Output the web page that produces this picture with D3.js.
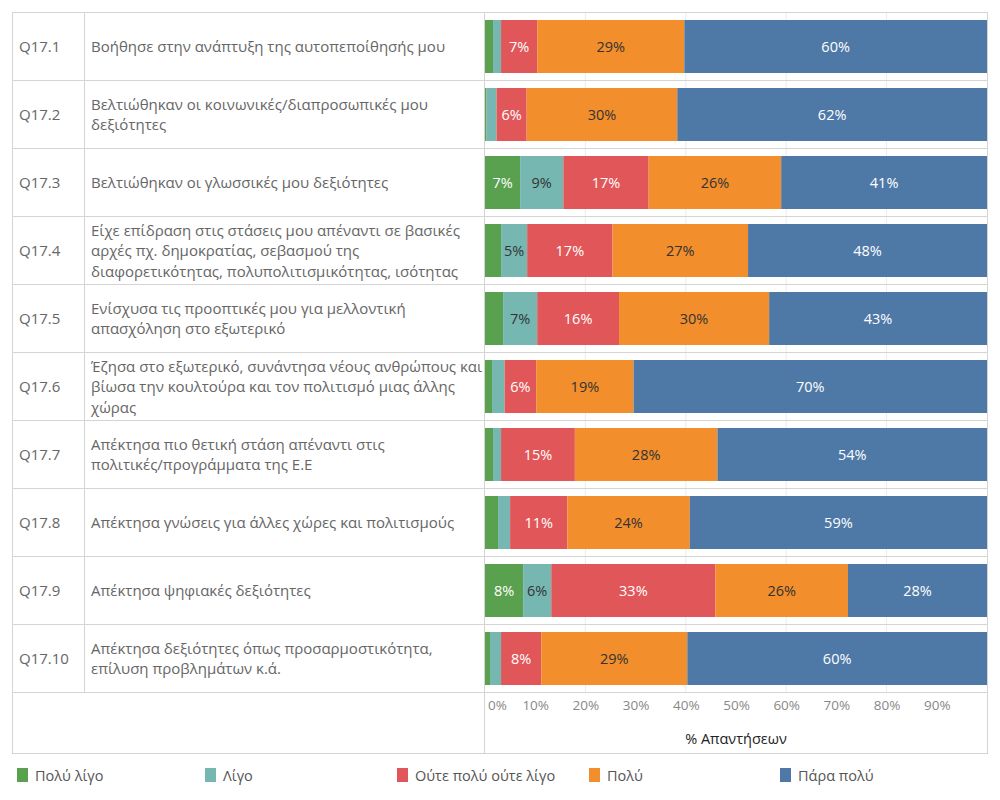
<!DOCTYPE html>
<html><head><meta charset="utf-8">
<script src="https://cdn.jsdelivr.net/npm/d3@7"></script>
<style>
body{margin:0;background:#fff;}
text{font-family:"Open Sans","Noto Sans",sans-serif;}
</style></head>
<body><svg id="c" width="1000" height="800"></svg>
<script>
const ids = ["Q17.1","Q17.2","Q17.3","Q17.4","Q17.5","Q17.6","Q17.7","Q17.8","Q17.9","Q17.10"];
const labels = [
  ["Βοήθησε στην ανάπτυξη της αυτοπεποίθησής μου"],
  ["Βελτιώθηκαν οι κοινωνικές/διαπροσωπικές μου","δεξιότητες"],
  ["Βελτιώθηκαν οι γλωσσικές μου δεξιότητες"],
  ["Είχε επίδραση στις στάσεις μου απέναντι σε βασικές","αρχές πχ.  δημοκρατίας, σεβασμού της","διαφορετικότητας, πολυπολιτισμικότητας, ισότητας"],
  ["Ενίσχυσα τις προοπτικές μου για μελλοντική","απασχόληση στο εξωτερικό"],
  ["Έζησα στο εξωτερικό, συνάντησα νέους ανθρώπους και","βίωσα την κουλτούρα και τον πολιτισμό μιας άλλης","χώρας"],
  ["Απέκτησα πιο θετική στάση απέναντι στις","πολιτικές/προγράμματα της Ε.Ε"],
  ["Απέκτησα γνώσεις για άλλες χώρες και πολιτισμούς"],
  ["Απέκτησα ψηφιακές δεξιότητες"],
  ["Απέκτησα δεξιότητες όπως προσαρμοστικότητα,","επίλυση προβλημάτων κ.ά."]
];
const series = ["Πολύ λίγο","Λίγο","Ούτε πολύ ούτε λίγο","Πολύ","Πάρα πολύ"];
const colors = ["#59a14f","#76b7b2","#e15759","#f28e2b","#4e79a7"];
const labelColors = ["#ffffff","#333333","#ffffff","#333333","#ffffff"];
const veryLittle = [1.6,0.3,7.0,3.2,3.6,1.4,1.6,2.6,7.6,1.0];
const little     = [1.6,2.0,8.6,5.2,6.8,2.5,1.6,2.4,5.6,2.2];
const neutral    = [7.2,6.0,17.0,17.0,16.3,6.3,14.7,11.4,32.7,8.0];
const much       = [29.3,30.0,26.4,27.0,29.9,19.4,28.4,24.4,26.4,29.1];
const veryMuch   = [60.3,61.7,41.0,47.6,43.4,70.4,53.7,59.2,27.7,59.7];
const ticks = [0,10,20,30,40,50,60,70,80,90];
const axisTitle = "% Απαντήσεων";

const values = [veryLittle,little,neutral,much,veryMuch];
const svg = d3.select("#c");
const L = 12, R = 988, T = 12, rowsBottom = 692, B = 754;
const colId = 84, colBar = 485;
const x = d3.scaleLinear().domain([0,100]).range([colBar, 987]);
const y = d3.scaleBand().domain(ids).range([T, rowsBottom]).paddingInner(0).paddingOuter(0);
const barPad = 8;

// gridlines
svg.append("g").selectAll("line").data([20,40,60,80]).join("line")
  .attr("x1",d=>x(d)).attr("x2",d=>x(d)).attr("y1",T).attr("y2",rowsBottom)
  .attr("stroke","#ececec").attr("stroke-width",1);

// row separators
svg.append("g").selectAll("line").data(ids.slice(1).concat(["__end"])).join("line")
  .attr("x1",L).attr("x2",R)
  .attr("y1",(d,i)=> i<ids.length-1 ? Math.round(y(d))+0.5 : rowsBottom+0.5)
  .attr("y2",(d,i)=> i<ids.length-1 ? Math.round(y(d))+0.5 : rowsBottom+0.5)
  .attr("stroke","#d4d4d4");

// vertical separators
svg.append("line").attr("x1",colId+0.5).attr("x2",colId+0.5).attr("y1",T).attr("y2",rowsBottom).attr("stroke","#d4d4d4");
svg.append("line").attr("x1",colBar-0.5).attr("x2",colBar-0.5).attr("y1",T).attr("y2",B).attr("stroke","#d4d4d4");
// outer border
svg.append("rect").attr("x",L+0.5).attr("y",T+0.5).attr("width",R-L-1).attr("height",B-T-1)
  .attr("fill","none").attr("stroke","#d4d4d4");

// stacked data
const rows = ids.map((id,i)=>{
  let acc = 0;
  return {id, segs: values.map((arr,s)=>{ const v0=acc; acc+=arr[i]; return {s, v:arr[i], v0, v1:acc}; })};
});

const g = svg.append("g").selectAll("g").data(rows).join("g");
g.selectAll("rect").data(d=>d.segs.map(s=>({...s,id:d.id}))).join("rect")
  .attr("x",d=>x(d.v0)).attr("width",d=>x(d.v1)-x(d.v0))
  .attr("y",d=>y(d.id)+barPad).attr("height",y.bandwidth()-2*barPad+1)
  .attr("fill",d=>colors[d.s]);
g.selectAll("text.v").data(d=>d.segs.filter(s=>s.v>=4.5).map(s=>({...s,id:d.id}))).join("text")
  .attr("class","v")
  .attr("x",d=>(x(d.v0)+x(d.v1))/2).attr("y",d=>y(d.id)+y.bandwidth()/2)
  .attr("text-anchor","middle").attr("dominant-baseline","central")
  .attr("font-size",14.5).attr("fill",d=>labelColors[d.s])
  .text(d=>Math.round(d.v)+"%");

// id column
svg.append("g").selectAll("text").data(ids).join("text")
  .attr("x",19).attr("y",d=>y(d)+y.bandwidth()/2)
  .attr("dominant-baseline","central").attr("font-size",15).attr("fill","#666")
  .text(d=>d);

// label column
const lg = svg.append("g").selectAll("text").data(ids).join("text")
  .attr("font-size",15).attr("fill","#666");
lg.each(function(d,i){
  const lines = labels[i], lh = 20.5;
  const cy = y(d)+y.bandwidth()/2 - (lines.length-1)*lh/2;
  d3.select(this).selectAll("tspan").data(lines).join("tspan")
    .attr("x",91).attr("y",(l,j)=>cy+j*lh).attr("dominant-baseline","central").text(l=>l);
});

// axis
const axisG = svg.append("g").attr("transform",`translate(0,${rowsBottom})`)
  .call(d3.axisBottom(x).tickValues(ticks).tickSize(0).tickFormat(d=>d+"%"));
axisG.select(".domain").remove();
axisG.selectAll("text").attr("font-size",13.5).attr("fill","#888").attr("dy",0).attr("y",18)
  .attr("font-family","'Open Sans','Noto Sans',sans-serif")
  .attr("dx",d=>d===0?12:0);
svg.append("text").attr("x",(x(0)+x(100))/2).attr("y",738).attr("text-anchor","middle")
  .attr("dominant-baseline","central").attr("font-size",14.5).attr("fill","#222").text(axisTitle);

// legend
const legX = [17,205,397,589,780];
const leg = svg.append("g").selectAll("g").data(series).join("g")
  .attr("transform",(d,i)=>`translate(${legX[i]},775)`);
leg.append("rect").attr("x",0).attr("y",-7).attr("width",11).attr("height",14).attr("fill",(d,i)=>colors[i]);
leg.append("text").attr("x",18).attr("y",0).attr("dominant-baseline","central")
  .attr("font-size",14.5).attr("fill","#555").text(d=>d);
</script></body></html>
